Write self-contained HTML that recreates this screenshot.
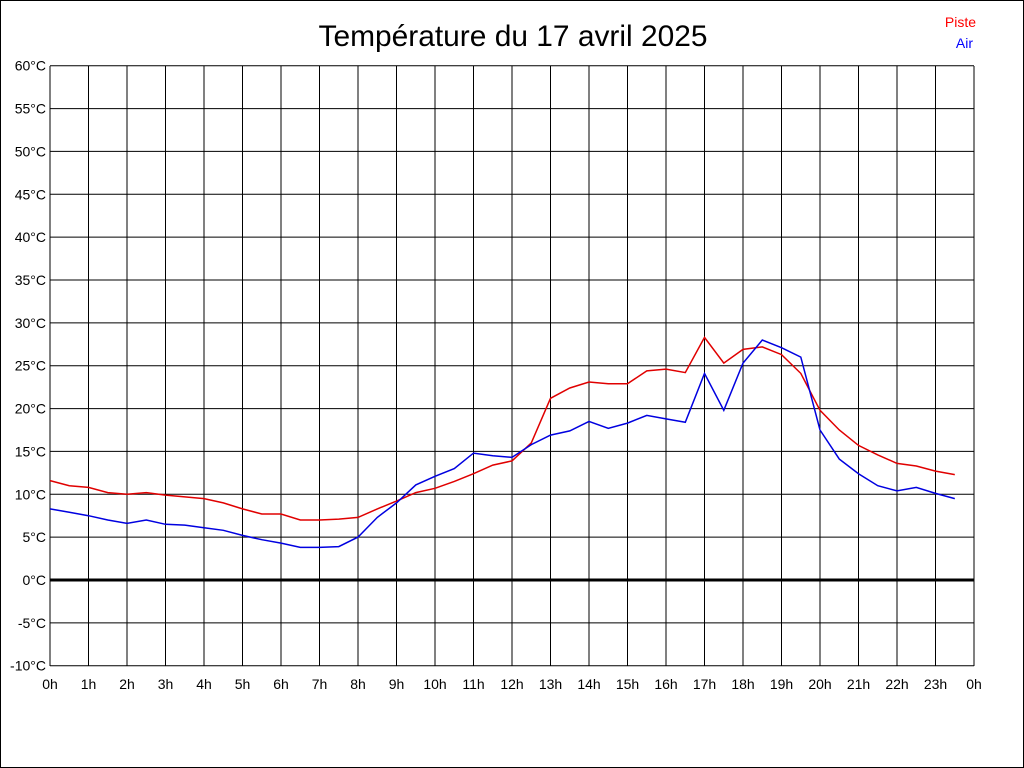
<!DOCTYPE html>
<html><head><meta charset="utf-8">
<style>
html,body{margin:0;padding:0;background:#fff;}
svg{display:block;}
text{font-family:"Liberation Sans",Arial,sans-serif;}
</style></head>
<body>
<svg id="s" width="1024" height="768" xmlns="http://www.w3.org/2000/svg">
<rect x="0.5" y="0.5" width="1023" height="767" fill="#fff" stroke="#000"/>
<text x="513" y="46" font-size="30" text-anchor="middle" textLength="389" lengthAdjust="spacingAndGlyphs">Température du 17 avril 2025</text>
<text x="976" y="27" font-size="14" fill="#f00" text-anchor="end">Piste</text>
<text x="973" y="48" font-size="14" fill="#00f" text-anchor="end">Air</text>
<g id="g"></g>
</svg>
<script>
var g=document.getElementById('g'),NS='http://www.w3.org/2000/svg';
function el(t,a,txt){var e=document.createElementNS(NS,t);for(var k in a)e.setAttribute(k,a[k]);if(txt!==undefined)e.textContent=txt;g.appendChild(e);return e;}
var X0=50,X1=974,Y0=66,Y1=666;
function Y(t){return 580-t*600/70;}
for(var h=0;h<=24;h++){var x=X0+h*38.5;el('line',{x1:x,y1:Y0,x2:x,y2:Y1,stroke:'#000','stroke-width':1});
el('text',{x:x,y:689,'font-size':14,'text-anchor':'middle'},(h%24)+'h');}
for(var t=-10;t<=60;t+=5){var y=Y(t);el('line',{x1:X0,y1:y,x2:X1,y2:y,stroke:'#000','stroke-width':t==0?3:1});
el('text',{x:46,y:y+5,'font-size':14,'text-anchor':'end'},t+'°C');}
var red=[11.6,11.0,10.8,10.2,10.0,10.2,9.9,9.7,9.5,9.0,8.3,7.7,7.7,7.0,7.0,7.1,7.3,8.3,9.2,10.2,10.7,11.5,12.4,13.4,13.9,16.0,21.2,22.4,23.1,22.9,22.9,24.4,24.6,24.2,28.3,25.3,26.9,27.2,26.3,24.1,19.8,17.5,15.7,14.6,13.6,13.3,12.7,12.3];
var blue=[8.3,7.9,7.5,7.0,6.6,7.0,6.5,6.4,6.1,5.8,5.2,4.7,4.3,3.8,3.8,3.9,5.0,7.3,9.0,11.1,12.1,13.0,14.8,14.5,14.3,15.8,16.9,17.4,18.5,17.7,18.3,19.2,18.8,18.4,24.1,19.8,25.3,28.0,27.1,26.0,17.5,14.1,12.4,11.0,10.4,10.8,10.1,9.5];
function pl(d,c){var p=d.map(function(v,i){return (X0+i*19.25).toFixed(1)+','+Y(v).toFixed(1);}).join(' ');
el('polyline',{points:p,fill:'none',stroke:c,'stroke-width':1.5});}
pl(red,'#e00000');pl(blue,'#0000e0');
</script>
</body></html>
